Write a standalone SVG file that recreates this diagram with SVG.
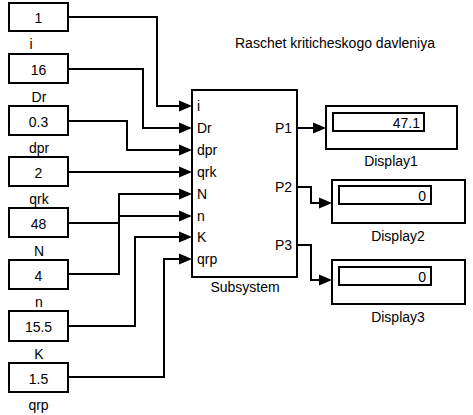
<svg xmlns="http://www.w3.org/2000/svg" width="473" height="415" viewBox="0 0 473 415">
<style>
.box{fill:#fff;stroke:#000;stroke-width:2}
.ln{fill:none;stroke:#000;stroke-width:2}
.ah{fill:#000;stroke:none}
text{font-family:"Liberation Sans",Arial,sans-serif;font-size:14px;fill:#000}
.c{text-anchor:middle}
.e{text-anchor:end}
</style>
<defs>
<polygon id="arr" points="-13,-5.5 0,0 -13,5.5"/>
</defs>
<rect width="473" height="415" fill="#fff"/>
<text id="title" x="235" y="48">Raschet kriticheskogo davleniya</text>

<g id="const_i"><rect class="box" x="9" y="3" width="59" height="28"/><text class="c" x="38.5" y="23">1</text><text class="c" x="31" y="49">i</text></g>
<g id="const_Dr"><rect class="box" x="9" y="54" width="59" height="29"/><text class="c" x="38.5" y="75">16</text><text class="c" x="39" y="102">Dr</text></g>
<g id="const_dpr"><rect class="box" x="9" y="106" width="59" height="29"/><text class="c" x="38.5" y="127">0.3</text><text class="c" x="39" y="153">dpr</text></g>
<g id="const_qrk"><rect class="box" x="9" y="157" width="59" height="29"/><text class="c" x="38.5" y="178">2</text><text class="c" x="39" y="204">qrk</text></g>
<g id="const_N"><rect class="box" x="9" y="208" width="59" height="29"/><text class="c" x="38.5" y="229">48</text><text class="c" x="39" y="256">N</text></g>
<g id="const_n"><rect class="box" x="9" y="260" width="59" height="29"/><text class="c" x="38.5" y="281">4</text><text class="c" x="39" y="307">n</text></g>
<g id="const_K"><rect class="box" x="9" y="311" width="59" height="30"/><text class="c" x="38.5" y="332">15.5</text><text class="c" x="39" y="359">K</text></g>
<g id="const_qrp"><rect class="box" x="9" y="363" width="59" height="29"/><text class="c" x="38.5" y="384">1.5</text><text class="c" x="38.5" y="410">qrp</text></g>

<g id="subsystem">
<rect class="box" x="192" y="90" width="105" height="187"/>
<text x="197" y="111">i</text>
<text x="197" y="133">Dr</text>
<text x="197" y="155">dpr</text>
<text x="197" y="177">qrk</text>
<text x="197" y="199">N</text>
<text x="197" y="221">n</text>
<text x="197" y="242">K</text>
<text x="197" y="264">qrp</text>
<text class="e" x="292" y="133">P1</text>
<text class="e" x="292" y="192">P2</text>
<text class="e" x="292" y="250">P3</text>
<text class="c" x="245" y="292">Subsystem</text>
</g>

<g id="display1"><rect class="box" x="326" y="106" width="131" height="43"/><rect class="box" x="333" y="113" width="91" height="18"/><text class="e" x="420" y="128">47.1</text><text class="c" x="391" y="166">Display1</text></g>
<g id="display2"><rect class="box" x="332" y="180" width="133" height="43"/><rect class="box" x="339" y="186" width="92" height="18"/><text class="e" x="426" y="201">0</text><text class="c" x="398" y="241">Display2</text></g>
<g id="display3"><rect class="box" x="332" y="260" width="133" height="44"/><rect class="box" x="339" y="267" width="92" height="18"/><text class="e" x="426" y="282">0</text><text class="c" x="398" y="322">Display3</text></g>

<g id="connectors">
<polyline class="ln" points="68,17 157,17 157,106 182,106"/>
<polyline class="ln" points="68,69 143,69 143,128 182,128"/>
<polyline class="ln" points="68,121 127,121 127,150 182,150"/>
<polyline class="ln" points="68,172 182,172"/>
<polyline class="ln" points="68,223 119,223 119,194 182,194"/>
<polyline class="ln" points="68,274 119,274 119,216 182,216"/>
<polyline class="ln" points="68,326 135,326 135,237 182,237"/>
<polyline class="ln" points="68,377 164,377 164,259 182,259"/>
<use href="#arr" class="ah" x="192" y="106"/>
<use href="#arr" class="ah" x="192" y="128"/>
<use href="#arr" class="ah" x="192" y="150"/>
<use href="#arr" class="ah" x="192" y="172"/>
<use href="#arr" class="ah" x="192" y="194"/>
<use href="#arr" class="ah" x="192" y="216"/>
<use href="#arr" class="ah" x="192" y="237"/>
<use href="#arr" class="ah" x="192" y="259"/>
<polyline class="ln" points="297,128 316,128"/>
<polyline class="ln" points="297,187 311,187 311,203 322,203"/>
<polyline class="ln" points="297,245 311,245 311,280 322,280"/>
<use href="#arr" class="ah" x="326" y="128"/>
<use href="#arr" class="ah" x="332" y="203"/>
<use href="#arr" class="ah" x="332" y="280"/>
</g>
</svg>
